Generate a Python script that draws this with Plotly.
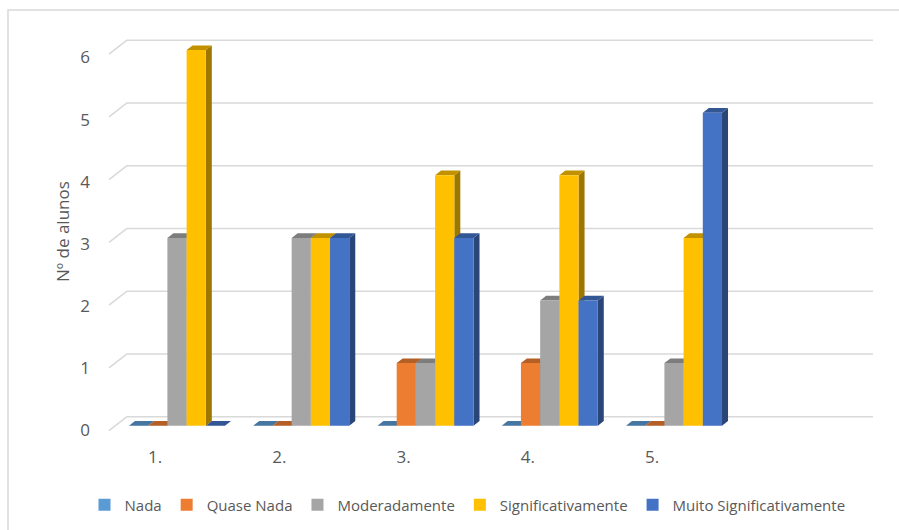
import plotly.graph_objects as go

# ---------------- data ----------------
categories = ["1.", "2.", "3.", "4.", "5."]
series_names = ["Nada", "Quase Nada", "Moderadamente", "Significativamente",
                "Muito Significativamente"]
nada = [0, 0, 0, 0, 0]
quase_nada = [0, 0, 1, 1, 0]
moderadamente = [3, 3, 1, 2, 1]
significativamente = [6, 3, 4, 4, 3]
muito_significativamente = [0, 3, 3, 2, 5]
y_ticks = [0, 1, 2, 3, 4, 5, 6]
y_title = "Nº de alunos"

series_values = [nada, quase_nada, moderadamente, significativamente,
                 muito_significativamente]
colors = ["#5B9BD5", "#ED7D31", "#A5A5A5", "#FFC000", "#4472C4"]

# ---------------- geometry (layout) ----------------
W, H = 899, 530
ML, MR, MT, MB = 109, 26, 20, 90
plot_w = W - ML - MR
plot_h = H - MT - MB
px_x = 124.25          # pixels per category slot
px_y = 62.6            # pixels per unit (front plane)
first_center_px = 177
x_range = [(ML - first_center_px) / px_x, (W - MR - first_center_px) / px_x]
bottom_px = MT + plot_h
y_front_range = [-(bottom_px - 425.7) / px_y]
y_front_range.append(y_front_range[0] + plot_h / px_y)
px_y_back = 62.75
y_back_range = [-(bottom_px - 416.7) / px_y_back]
y_back_range.append(y_back_range[0] + plot_h / px_y_back)
px_y_lab = 62.08
y_lab_range = [-(bottom_px - 430) / px_y_lab]
y_lab_range.append(y_lab_range[0] + plot_h / px_y_lab)

bargap = 0.227
nser = len(series_values)
bw = (1 - bargap) / nser
depth_x = 6 / px_x
depth_y = 4.7 / px_y


def shade(hexc, f):
    hexc = hexc.lstrip("#")
    r, g, b = (int(hexc[i:i + 2], 16) for i in (0, 2, 4))
    return "rgb(%d,%d,%d)" % (r * f, g * f, b * f)


fig = go.Figure()
xs = list(range(len(categories)))
for k, (name, vals) in enumerate(zip(series_names, series_values)):
    fig.add_trace(go.Bar(
        x=xs, y=vals, name=name, marker=dict(color=colors[k], line=dict(width=0)),
        xaxis="x", yaxis="y", hovertemplate="%{y}<extra>" + name + "</extra>"))

shapes = []
# back-wall gridlines with slanted left ends
slant_px_x, slant_px_y = 18, 14
for v in y_ticks:
    shapes.append(dict(type="line", xref="paper", yref="y2",
                       x0=slant_px_x / plot_w, x1=1, y0=v, y1=v,
                       line=dict(color="#D9D9D9", width=1.5), layer="below"))
    shapes.append(dict(type="line", xref="paper", yref="y2",
                       x0=0, x1=slant_px_x / plot_w,
                       y0=v - slant_px_y / px_y_back, y1=v,
                       line=dict(color="#D9D9D9", width=1.5), layer="below"))

# 3D side and top faces of every bar
for i in xs:
    for k, vals in enumerate(series_values):
        v = vals[i]
        xc = i + (k - (nser - 1) / 2) * bw
        xl, xr = xc - bw / 2, xc + bw / 2
        side = (f"M{xr},0 L{xr + depth_x},{depth_y} L{xr + depth_x},{v + depth_y} "
                f"L{xr},{v} Z")
        top = (f"M{xl},{v} L{xl + depth_x},{v + depth_y} L{xr + depth_x},{v + depth_y} "
               f"L{xr},{v} Z")
        if v > 0:
            shapes.append(dict(type="path", xref="x", yref="y", path=side,
                               fillcolor=shade(colors[k], 0.62), line=dict(width=0),
                               layer="below"))
        shapes.append(dict(type="path", xref="x", yref="y", path=top,
                           fillcolor=shade(colors[k], 0.76), line=dict(width=0),
                           layer="below"))

# chart border
shapes.append(dict(type="rect", xref="paper", yref="paper",
                   x0=(8 - ML) / plot_w, x1=(W + 10 - ML) / plot_w,
                   y0=(bottom_px - 10) / plot_h, y1=(bottom_px - (H + 10)) / plot_h,
                   line=dict(color="#D9D9D9", width=1.5), fillcolor="rgba(0,0,0,0)",
                   layer="above"))

font_family = "Open Sans, Noto Sans, sans-serif"
tick_color = "#595959"
fig.update_layout(
    width=W, height=H,
    margin=dict(l=ML, r=MR, t=MT, b=MB, autoexpand=False),
    paper_bgcolor="white", plot_bgcolor="rgba(0,0,0,0)",
    barmode="group", bargap=bargap, bargroupgap=0,
    font=dict(family=font_family, color=tick_color),
    xaxis=dict(range=x_range, tickvals=[i - 22 / px_x for i in xs], ticktext=categories,
               showgrid=False, zeroline=False, showline=False, ticks="",
               tickfont=dict(size=17, color=tick_color), ticklabelstandoff=5,
               automargin=False, fixedrange=True),
    yaxis=dict(range=y_front_range, showgrid=False, zeroline=False, showline=False,
               showticklabels=False, ticks="", automargin=False),
    yaxis2=dict(range=y_back_range, overlaying="y", showgrid=False, zeroline=False,
                showline=False, showticklabels=False, ticks="", automargin=False),
    yaxis3=dict(range=y_lab_range, overlaying="y", tickvals=y_ticks,
                showgrid=False, zeroline=False, showline=False, ticks="",
                ticklabelstandoff=18, tickfont=dict(size=17, color=tick_color),
                automargin=False),
    legend=dict(orientation="h", xref="container", x=467.5 / W, xanchor="center",
                yref="container", y=(H - 505) / H, yanchor="middle",
                font=dict(size=15, color=tick_color), itemwidth=30,
                traceorder="normal"),
    shapes=shapes,
    annotations=[dict(text=y_title, xref="paper", yref="paper",
                      x=(62 - ML) / plot_w, y=(bottom_px - 232) / plot_h,
                      xanchor="center", yanchor="middle",
                      textangle=-90, showarrow=False,
                      font=dict(size=17, color=tick_color))],
)
# dummy traces so the overlaying axes are drawn
fig.add_trace(go.Scatter(x=[None], y=[None], yaxis="y3", showlegend=False,
                         hoverinfo="skip"))
fig.add_trace(go.Scatter(x=[None], y=[None], yaxis="y2", showlegend=False,
                         hoverinfo="skip"))

fig.write_html("out.html")
